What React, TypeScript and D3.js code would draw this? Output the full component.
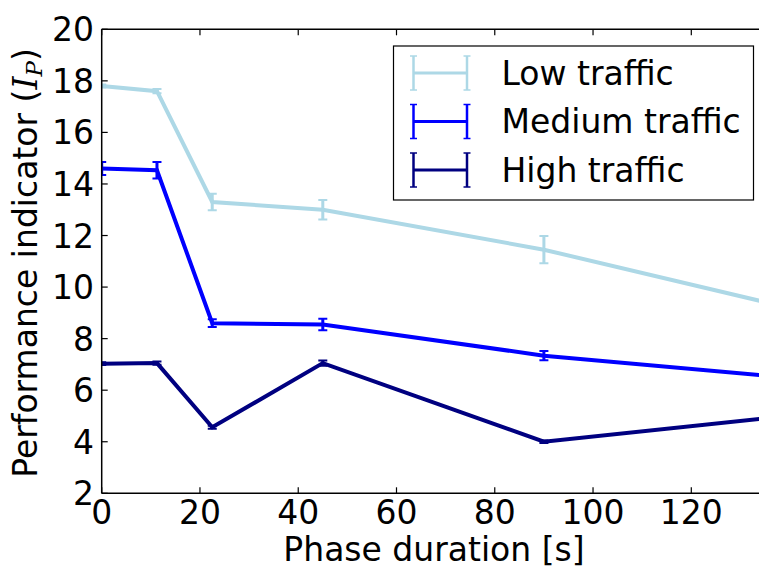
import React from "react";
import * as d3 from "d3";

// Phase durations [s]
const durations = [0, 11.25, 22.5, 45, 90, 135];

// Performance indicator per traffic level, with error half-widths
const lowTraffic = [17.8, 17.6, 13.3, 13.0, 11.45, 9.42];
const lowTrafficErr = [0.06, 0.08, 0.32, 0.38, 0.53, 0.4];
const mediumTraffic = [14.6, 14.53, 8.6, 8.55, 7.34, 6.57];
const mediumTrafficErr = [0.25, 0.32, 0.15, 0.22, 0.18, 0.15];
const highTraffic = [7.03, 7.05, 4.56, 7.05, 4.0, 4.91];
const highTrafficErr = [0.05, 0.06, 0.06, 0.1, 0.05, 0.1];

const seriesNames = ["Low traffic", "Medium traffic", "High traffic"];
const seriesColors = ["#add8e6", "#0000ff", "#000080"];

const xTicks = [0, 20, 40, 60, 80, 100, 120];
const yTicks = [2, 4, 6, 8, 10, 12, 14, 16, 18, 20];

const W = 759;
const H = 568;
const left = 101.7;
const top = 29.3;
const bottom = 493.3;
const right = 765;

const FONT = "'DejaVu Sans', sans-serif";
const FS = 33;

export default function App() {
  const x = d3.scaleLinear().domain([0, 135]).range([left, right]);
  const y = d3.scaleLinear().domain([2, 20]).range([bottom, top]);

  const series = [
    { vals: lowTraffic, err: lowTrafficErr },
    { vals: mediumTraffic, err: mediumTrafficErr },
    { vals: highTraffic, err: highTrafficErr },
  ];

  const line = d3
    .line<[number, number]>()
    .x((d) => x(d[0]))
    .y((d) => y(d[1]));

  const capHalf = 4.5;
  const tickLen = 6;

  // legend geometry
  const legX = 393.5;
  const legY = 46;
  const legW = 360;
  const legH = 154;
  const rowCenters = [73, 121.5, 170];

  return (
    <svg
      width={W}
      height={H}
      style={{ position: "absolute", left: 0, top: 0, background: "#fff" }}
      fontFamily={FONT}
    >
      <defs>
        <clipPath id="plot-area">
          <rect x={left} y={top} width={right - left} height={bottom - top} />
        </clipPath>
      </defs>
      <rect x={0} y={0} width={W} height={H} fill="#fff" />

      {/* data lines and error bars */}
      <g clipPath="url(#plot-area)">
        {series.map((s, i) => {
          const pts = durations.map((d, j) => [d, s.vals[j]] as [number, number]);
          return (
            <g key={i}>
              <path
                d={line(pts) || ""}
                fill="none"
                stroke={seriesColors[i]}
                strokeWidth={4}
                strokeLinejoin="miter"
              />
              {durations.map((d, j) => {
                const cx = x(d);
                const y1 = y(s.vals[j] + s.err[j]);
                const y2 = y(s.vals[j] - s.err[j]);
                return (
                  <g key={j} stroke={seriesColors[i]}>
                    <line x1={cx} x2={cx} y1={y1} y2={y2} strokeWidth={3} />
                    <line x1={cx - capHalf} x2={cx + capHalf} y1={y1} y2={y1} strokeWidth={2} />
                    <line x1={cx - capHalf} x2={cx + capHalf} y1={y2} y2={y2} strokeWidth={2} />
                  </g>
                );
              })}
            </g>
          );
        })}
      </g>

      {/* spines */}
      <g stroke="#000" strokeWidth={1.5} fill="none">
        <line x1={left} x2={left} y1={top} y2={bottom} />
        <line x1={left} x2={right} y1={bottom} y2={bottom} />
        <line x1={left} x2={right} y1={top} y2={top} />
        <line x1={right} x2={right} y1={top} y2={bottom} />
      </g>

      {/* x ticks (inward, bottom and top) */}
      {xTicks.map((t) => (
        <g key={`x${t}`}>
          <line x1={x(t)} x2={x(t)} y1={bottom} y2={bottom - tickLen} stroke="#000" strokeWidth={1.2} />
          <line x1={x(t)} x2={x(t)} y1={top} y2={top + tickLen} stroke="#000" strokeWidth={1.2} />
          <text x={x(t)} y={524} fontSize={FS} textAnchor="middle" fill="#000">
            {t}
          </text>
        </g>
      ))}

      {/* y ticks */}
      {yTicks.map((t) => (
        <g key={`y${t}`}>
          <line x1={left} x2={left + tickLen} y1={y(t)} y2={y(t)} stroke="#000" strokeWidth={1.2} />
          <text x={94} y={y(t) + 12} fontSize={FS} textAnchor="end" fill="#000">
            {t}
          </text>
        </g>
      ))}

      {/* axis labels */}
      <text x={434} y={561} fontSize={FS} textAnchor="middle" fill="#000">
        Phase duration [s]
      </text>
      <text
        transform={`translate(37,263) rotate(-90)`}
        fontSize={FS}
        textAnchor="middle"
        fill="#000"
      >
        Performance indicator (
        <tspan fontFamily="'DejaVu Serif', serif" fontStyle="italic">I</tspan>
        <tspan fontFamily="'DejaVu Serif', serif" fontStyle="italic" fontSize={23} dy={5}>
          P
        </tspan>
        <tspan dy={-5}>)</tspan>
      </text>

      {/* legend */}
      <rect x={legX} y={legY} width={legW} height={legH} fill="#fff" stroke="#000" strokeWidth={1.2} />
      {seriesNames.map((name, i) => {
        const cy = rowCenters[i];
        const x1 = 413.5;
        const x2 = 467;
        const half = 17;
        const c = seriesColors[i];
        return (
          <g key={name}>
            <line x1={x1} x2={x2} y1={cy} y2={cy} stroke={c} strokeWidth={3} />
            {[x1, x2].map((vx) => (
              <g key={vx} stroke={c}>
                <line x1={vx} x2={vx} y1={cy - half} y2={cy + half} strokeWidth={2.5} />
                <line x1={vx - 3.5} x2={vx + 3.5} y1={cy - half} y2={cy - half} strokeWidth={1.5} />
                <line x1={vx - 3.5} x2={vx + 3.5} y1={cy + half} y2={cy + half} strokeWidth={1.5} />
              </g>
            ))}
            <text x={501.5} y={cy + 11.5} fontSize={FS} fill="#000">
              {name}
            </text>
          </g>
        );
      })}
    </svg>
  );
}
